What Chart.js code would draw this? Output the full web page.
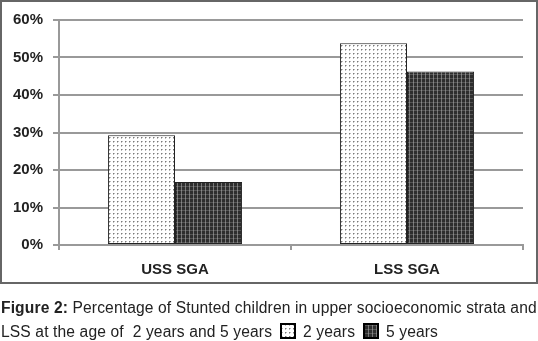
<!DOCTYPE html>
<html>
<head>
<meta charset="utf-8">
<script src="https://cdn.jsdelivr.net/npm/chart.js@4/dist/chart.umd.min.js"></script>
<style>
  html, body { margin:0; padding:0; background:#fff; }
  body { width:538px; height:341px; position:relative; overflow:hidden; font-family:"Liberation Sans", Arial, sans-serif; }
  #wrap { position:absolute; left:0; top:0; width:538px; height:284px; }
  #frame { position:absolute; left:0; top:0; width:538px; height:284px; box-sizing:border-box; border:2px solid #666; pointer-events:none; }
  .cap { position:absolute; left:1px; white-space:nowrap; font-size:15.6px; letter-spacing:0.13px; color:#222; line-height:20px; }
  .cap b { font-weight:bold; }
  .icon { display:inline-block; width:16px; height:16px; vertical-align:-2px; margin:0 3px 0 3px; }
</style>
</head>
<body>
<div id="wrap"><canvas id="c" width="538" height="284"></canvas></div>
<div id="frame"></div>
<div class="cap" id="l1" style="top:298px;"><b>Figure 2:</b> Percentage of Stunted children in upper socioeconomic strata and</div>
<div class="cap" id="l2" style="top:322px;">LSS at the age of&nbsp; 2 years and 5 years <canvas class="icon" id="i1" width="16" height="16"></canvas> 2 years <canvas class="icon" id="i2" width="16" height="16"></canvas> 5 years</div>
<script>
const categories = ['USS SGA', 'LSS SGA'];
const seriesNames = ['2 years', '5 years'];
const values2y = [29.3, 53.8];
const values5y = [16.8, 46.3];
const yTickValues = [0, 10, 20, 30, 40, 50, 60];

function dotPattern() {
  const t = document.createElement('canvas');
  t.width = 4; t.height = 4;
  const g = t.getContext('2d');
  g.fillStyle = '#ffffff'; g.fillRect(0, 0, 4, 4);
  g.fillStyle = '#7a7a7a'; g.fillRect(1, 1, 1, 1);
  g.fillStyle = '#bdbdbd'; g.fillRect(2, 1, 1, 1); g.fillRect(1, 2, 1, 1);
  return t;
}
function darkPattern() {
  const t = document.createElement('canvas');
  t.width = 4; t.height = 4;
  const g = t.getContext('2d');
  g.fillStyle = '#2e2e2e'; g.fillRect(0, 0, 4, 4);
  g.fillStyle = '#777777'; g.fillRect(1, 0, 1, 4);
  g.fillStyle = '#555555'; g.fillRect(0, 2, 4, 1);
  g.fillStyle = '#8a8a8a'; g.fillRect(1, 2, 1, 1);
  return t;
}
const ctx = document.getElementById('c').getContext('2d');
const pat2 = ctx.createPattern(dotPattern(), 'repeat');
const pat5 = ctx.createPattern(darkPattern(), 'repeat');

function drawIcon(id, tile) {
  const g = document.getElementById(id).getContext('2d');
  g.fillStyle = '#000';
  g.fillRect(0, 0, 16, 16);
  g.fillStyle = g.createPattern(tile, 'repeat');
  g.fillRect(2, 2, 12, 12);
}
drawIcon('i1', dotPattern());
drawIcon('i2', darkPattern());

const tickFont = { family: '"Liberation Sans", Arial, sans-serif', size: 15, weight: 'bold' };

new Chart(ctx, {
  type: 'bar',
  data: {
    labels: categories,
    datasets: [
      { label: seriesNames[0], data: values2y, backgroundColor: pat2, borderColor: '#222', borderWidth: 1, borderSkipped: false },
      { label: seriesNames[1], data: values5y, backgroundColor: pat5, borderColor: '#222', borderWidth: 1, borderSkipped: false }
    ]
  },
  options: {
    responsive: false,
    animation: false,
    events: [],
    layout: { padding: { left: 0, right: 15, top: 20, bottom: 0 } },
    plugins: { legend: { display: false }, tooltip: { enabled: false } },
    datasets: { bar: { barPercentage: 1, categoryPercentage: 0.578 } },
    scales: {
      x: {
        grid: { offset: true, drawOnChartArea: false, drawTicks: true, tickLength: 5, color: '#999', lineWidth: 2 },
        border: { display: true, color: '#999', width: 2 },
        ticks: { font: tickFont, color: '#222', padding: 11 },
        afterFit: s => { s.height = 39; }
      },
      y: {
        min: 0, max: 60,
        afterBuildTicks: s => { s.ticks = yTickValues.map(v => ({ value: v })); },
        grid: { color: '#999', lineWidth: 2, drawTicks: true, tickLength: 6 },
        border: { display: true, color: '#999', width: 2 },
        ticks: { font: tickFont, color: '#222', padding: 10, callback: v => v + '%' },
        afterFit: s => { s.width = 59; }
      }
    }
  }
});
</script>
</body>
</html>
